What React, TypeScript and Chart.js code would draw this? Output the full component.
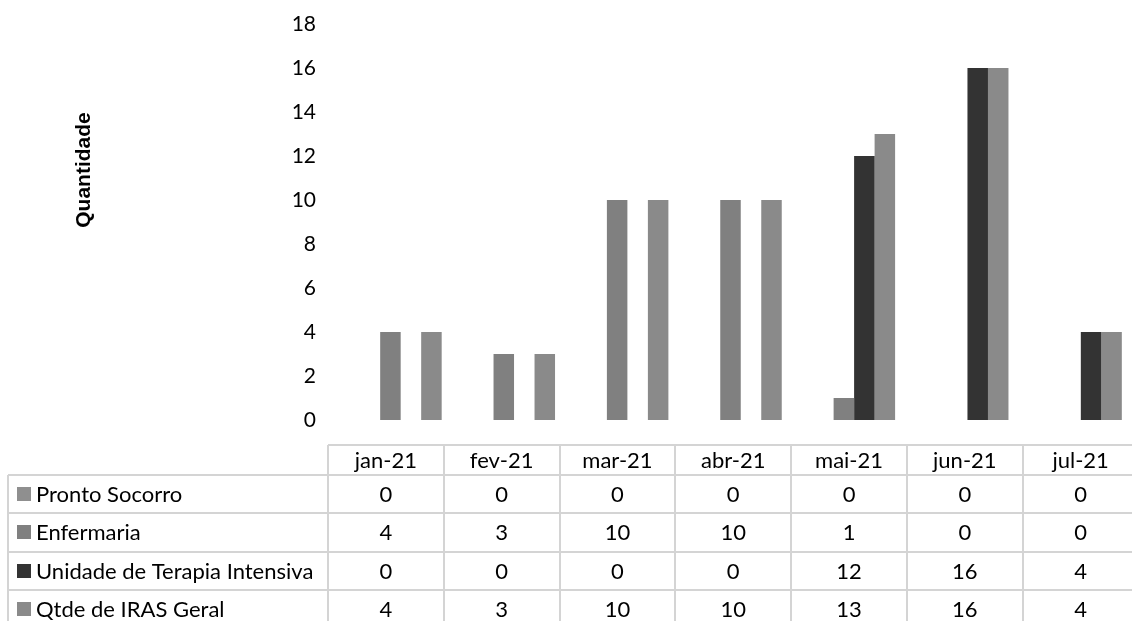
import React, { useEffect, useRef } from "react";
import { Chart, registerables } from "chart.js";

Chart.register(...registerables);

const categories = ["jan-21", "fev-21", "mar-21", "abr-21", "mai-21", "jun-21", "jul-21"];
const seriesNames = ["Pronto Socorro", "Enfermaria", "Unidade de Terapia Intensiva", "Qtde de IRAS Geral"];
const prontoSocorro = [0, 0, 0, 0, 0, 0, 0];
const enfermaria = [4, 3, 10, 10, 1, 0, 0];
const terapiaIntensiva = [0, 0, 0, 0, 12, 16, 4];
const qtdeGeral = [4, 3, 10, 10, 13, 16, 4];
const seriesColors = ["#8f8f8f", "#808080", "#333333", "#8a8a8a"];
const yMax = 18;
const yStep = 2;
const yAxisTitle = "Quantidade";

const FONT = "Lato, 'Open Sans', sans-serif";

const tablePlugin = {
  id: "dataTable",
  afterDraw(chart: any) {
    const { ctx, chartArea, width } = chart;
    const series = [prontoSocorro, enfermaria, terapiaIntensiva, qtdeGeral];
    const left = chartArea.left - 16;
    const right = chartArea.right + 1;
    const colW = (right - left) / categories.length;
    const labelLeft = 8;
    const headerTop = chartArea.bottom + 25;
    const headerBottom = headerTop + 29.5;
    const rowH = 38.5;
    const tableBottom = headerBottom + rowH * series.length;

    ctx.save();
    ctx.strokeStyle = "#d4d4d4";
    ctx.lineWidth = 2;
    ctx.beginPath();
    ctx.moveTo(left, Math.round(headerTop));
    ctx.lineTo(width, Math.round(headerTop));
    for (let r = 0; r <= series.length; r++) {
      const y = Math.round(headerBottom + r * rowH);
      ctx.moveTo(labelLeft, y);
      ctx.lineTo(width, y);
    }
    ctx.moveTo(labelLeft, Math.round(headerBottom));
    ctx.lineTo(labelLeft, tableBottom + 5);
    for (let c = 0; c <= categories.length; c++) {
      const x = Math.round(left + c * colW);
      ctx.moveTo(x, Math.round(headerTop));
      ctx.lineTo(x, tableBottom + 5);
    }
    ctx.stroke();

    ctx.fillStyle = "#000";
    ctx.font = `22px ${FONT}`;
    ctx.textAlign = "center";
    ctx.textBaseline = "middle";
    categories.forEach((c, i) => {
      ctx.fillText(c, left + colW * (i + 0.5), (headerTop + headerBottom) / 2 + 1);
    });
    series.forEach((vals, r) => {
      const cy = headerBottom + r * rowH + rowH / 2 + 1;
      vals.forEach((v, i) => {
        ctx.fillText(String(v), left + colW * (i + 0.5), cy);
      });
      ctx.fillStyle = seriesColors[r];
      ctx.fillRect(17, Math.round(cy - 8), 14, 14);
      ctx.fillStyle = "#000";
      ctx.textAlign = "left";
      ctx.fillText(seriesNames[r], 36, cy);
      ctx.textAlign = "center";
    });

    ctx.translate(84, 170);
    ctx.rotate(-Math.PI / 2);
    ctx.font = "bold 21px 'Liberation Sans', Arial, sans-serif";
    ctx.fillText(yAxisTitle, 0, 0);
    ctx.restore();
  },
};

export default function App() {
  const ref = useRef<HTMLCanvasElement | null>(null);
  useEffect(() => {
    if (!ref.current) return;
    const data = [prontoSocorro, enfermaria, terapiaIntensiva, qtdeGeral];
    const chart = new Chart(ref.current, {
      type: "bar",
      data: {
        labels: categories,
        datasets: data.map((d, i) => ({
          label: seriesNames[i],
          data: d,
          backgroundColor: seriesColors[i],
          borderWidth: 0,
          categoryPercentage: 0.7234,
          barPercentage: 1,
        })),
      },
      options: {
        responsive: false,
        animation: false,
        devicePixelRatio: 1,
        layout: { padding: { top: 24, right: 2.5, bottom: 201, left: 0 } },
        plugins: { legend: { display: false }, tooltip: { enabled: false }, title: { display: false } },
        scales: {
          x: { display: false },
          y: {
            min: 0,
            max: yMax,
            grid: { display: false, drawTicks: true, tickLength: 28 },
            border: { display: false },
            ticks: { stepSize: yStep, padding: 0, color: "#000", font: { family: FONT, size: 21 } },
            afterFit: (s: any) => {
              s.width = 344;
            },
          },
        },
      },
      plugins: [tablePlugin],
    });
    return () => chart.destroy();
  }, []);
  return (
    <div style={{ position: "absolute", left: 0, top: 0, width: 1132, height: 621, overflow: "hidden", background: "#fff" }}>
      <canvas ref={ref} width={1140} height={621} style={{ width: 1140, height: 621, display: "block" }} />
    </div>
  );
}
